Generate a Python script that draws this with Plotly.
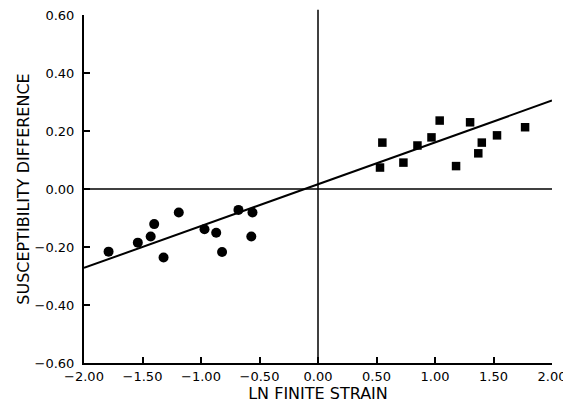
import plotly.graph_objects as go

# Data
neg_strain = [-1.79, -1.54, -1.43, -1.40, -1.32, -1.19, -0.97, -0.87, -0.82, -0.68, -0.56, -0.57]
neg_susc = [-0.216, -0.185, -0.164, -0.121, -0.236, -0.081, -0.139, -0.151, -0.217, -0.072, -0.081, -0.164]

pos_strain = [0.55, 0.53, 0.73, 0.85, 0.97, 1.04, 1.18, 1.30, 1.40, 1.37, 1.53, 1.77]
pos_susc = [0.160, 0.074, 0.091, 0.150, 0.178, 0.236, 0.079, 0.230, 0.160, 0.123, 0.185, 0.213]

fit_x = [-2.0, 2.0]
fit_y = [-0.272, 0.305]

x_ticks = [-2.0, -1.5, -1.0, -0.5, 0.0, 0.5, 1.0, 1.5, 2.0]
x_labels = ["−2.00", "−1.50", "−1.00", "−0.50", "0.00", "0.50", "1.00", "1.50", "2.00"]
y_ticks = [-0.6, -0.4, -0.2, 0.0, 0.2, 0.4, 0.6]
y_labels = ["−0.60", "−0.40", "−0.20", "0.00", "0.20", "0.40", "0.60"]

FONT = "DejaVu Sans"

fig = go.Figure()
fig.add_trace(go.Scatter(x=fit_x, y=fit_y, mode="lines",
                         line=dict(color="black", width=2), hoverinfo="skip"))
fig.add_trace(go.Scatter(x=neg_strain, y=neg_susc, mode="markers",
                         marker=dict(symbol="circle", size=10, color="black")))
fig.add_trace(go.Scatter(x=pos_strain, y=pos_susc, mode="markers",
                         marker=dict(symbol="square", size=8.5, color="black")))

# zero reference lines
fig.add_shape(type="line", xref="x", yref="y", x0=-2.0, x1=2.0, y0=0, y1=0,
              line=dict(color="black", width=1.5))
fig.add_shape(type="line", xref="x", yref="paper", x0=0, x1=0, y0=0, y1=1.015,
              line=dict(color="black", width=1.5))

fig.update_layout(
    width=563, height=409,
    margin=dict(l=76, r=19, t=7, b=54),
    paper_bgcolor="white", plot_bgcolor="white",
    showlegend=False,
    font=dict(family=FONT, color="black"),
    xaxis=dict(
        range=[-2.0, 2.0], tickvals=x_ticks, ticktext=x_labels,
        ticks="inside", ticklen=6, tickwidth=1.5, tickcolor="black",
        showline=True, linecolor="black", linewidth=2,
        showgrid=False, zeroline=False, automargin=False,
        tickfont=dict(family=FONT, size=13),
        ticklabelstandoff=0, ticklabeloverflow="allow",
        title=dict(text="LN FINITE STRAIN", font=dict(family=FONT, size=16),
                   standoff=4),
    ),
    yaxis=dict(
        range=[-0.6, 0.6], tickvals=y_ticks, ticktext=y_labels,
        ticks="inside", ticklen=6, tickwidth=1.5, tickcolor="black",
        showline=True, linecolor="black", linewidth=2,
        showgrid=False, zeroline=False, automargin=False,
        tickfont=dict(family=FONT, size=13),
        ticklabelstandoff=5, ticklabeloverflow="allow",
        title=dict(text="SUSCEPTIBILITY DIFFERENCE", font=dict(family=FONT, size=16),
                   standoff=1),
    ),
)

fig.write_html("out.html")
